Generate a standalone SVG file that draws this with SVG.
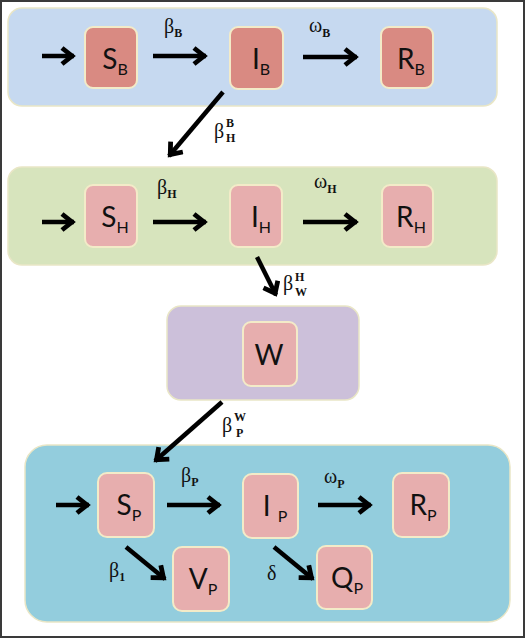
<svg xmlns="http://www.w3.org/2000/svg" width="525" height="638" viewBox="0 0 525 638">
<defs>
<style>
.panel{stroke:#e9e6c6;stroke-width:1.5}
.box{stroke:#f3ebc8;stroke-width:2}
.dark{fill:#d98a82}
.light{fill:#e7aeae}
.lab{font-family:"Lato","Open Sans","Liberation Sans",sans-serif;font-size:28px;fill:#111}
.lab tspan{font-size:16px}
.gr{font-family:"Liberation Serif","DejaVu Serif",serif;font-size:20px;fill:#111}
.sub{font-size:12px;font-weight:bold}
.arr{stroke:#000;stroke-width:4.5;fill:none;marker-end:url(#ah)}
</style>
<marker id="ah" markerUnits="userSpaceOnUse" markerWidth="20" markerHeight="20" viewBox="-14 -10 20 20" refX="2" refY="0" orient="auto">
<path d="M-10,-8 L0,0 L-10,8" fill="none" stroke="#000" stroke-width="4.8" stroke-linejoin="miter"/>
</marker>
</defs>
<rect x="1" y="1" width="523" height="636" fill="#fff" stroke="#3a3a3a" stroke-width="2"/>

<g id="panel-B">
<rect class="panel" x="8" y="8" width="489" height="98" rx="14" fill="#c6d9f0"/>
</g>
<g id="panel-H">
<rect class="panel" x="8" y="167" width="489" height="98" rx="14" fill="#d7e4bd"/>
</g>
<g id="panel-W">
<rect class="panel" x="167" y="306" width="192" height="94" rx="14" fill="#ccc0da"/>
</g>
<g id="panel-P">
<rect class="panel" x="25" y="445" width="485" height="177" rx="22" fill="#93cddd"/>
</g>

<g id="SB"><rect class="box dark" x="85" y="27" width="52" height="61" rx="8"/><text class="lab" x="115" y="69" text-anchor="middle">S<tspan dy="6">B</tspan></text></g>
<g id="IB"><rect class="box dark" x="230" y="27" width="53" height="62" rx="8"/><text class="lab" x="261" y="69" text-anchor="middle">I<tspan dy="6">B</tspan></text></g>
<g id="RB"><rect class="box dark" x="381" y="27" width="52" height="61" rx="8"/><text class="lab" x="411" y="69" text-anchor="middle">R<tspan dy="6">B</tspan></text></g>

<g id="SH"><rect class="box light" x="85" y="185" width="52" height="62" rx="8"/><text class="lab" x="115" y="227" text-anchor="middle">S<tspan dy="6">H</tspan></text></g>
<g id="IH"><rect class="box light" x="230" y="185" width="52" height="62" rx="8"/><text class="lab" x="261" y="227" text-anchor="middle">I<tspan dy="6">H</tspan></text></g>
<g id="RH"><rect class="box light" x="382" y="185" width="51" height="62" rx="8"/><text class="lab" x="411" y="227" text-anchor="middle">R<tspan dy="6">H</tspan></text></g>

<g id="W"><rect class="box light" x="243" y="322" width="54" height="64" rx="8"/><text class="lab" x="269" y="365" text-anchor="middle">W</text></g>

<g id="SP"><rect class="box light" x="98" y="473" width="56" height="64" rx="9"/><text class="lab" x="129" y="515" text-anchor="middle">S<tspan dy="6">P</tspan></text></g>
<g id="IP"><rect class="box light" x="243" y="474" width="55" height="64" rx="9"/><text class="lab" x="275" y="516" text-anchor="middle">I <tspan dy="6">P</tspan></text></g>
<g id="RP"><rect class="box light" x="393" y="473" width="56" height="64" rx="9"/><text class="lab" x="423" y="515" text-anchor="middle">R<tspan dy="6">P</tspan></text></g>
<g id="VP"><rect class="box light" x="173" y="547" width="56" height="64" rx="9"/><text class="lab" x="203" y="589" text-anchor="middle">V<tspan dy="6">P</tspan></text></g>
<g id="QP"><rect class="box light" x="317" y="546" width="55" height="63" rx="9"/><text class="lab" x="347" y="588" text-anchor="middle">Q<tspan dy="6">P</tspan></text></g>

<g id="connectors">
<line class="arr" x1="42" y1="56" x2="74" y2="56"/>
<line class="arr" x1="153" y1="56" x2="206" y2="56"/>
<line class="arr" x1="303" y1="57" x2="357" y2="57"/>
<line class="arr" x1="223" y1="92" x2="169" y2="156"/>
<line class="arr" x1="42" y1="222" x2="74" y2="222"/>
<line class="arr" x1="153" y1="222" x2="206" y2="222"/>
<line class="arr" x1="303" y1="222" x2="357" y2="222"/>
<line class="arr" x1="257" y1="257" x2="276" y2="295"/>
<line class="arr" x1="222" y1="402" x2="155" y2="461"/>
<line class="arr" x1="56" y1="505" x2="89" y2="505"/>
<line class="arr" x1="167" y1="505" x2="220" y2="505"/>
<line class="arr" x1="318" y1="505" x2="371" y2="505"/>
<line class="arr" x1="126" y1="547" x2="165" y2="579"/>
<line class="arr" x1="274" y1="547" x2="313" y2="579"/>

<text class="gr" x="164" y="33">β<tspan class="sub" dy="4">B</tspan></text>
<text class="gr" x="309" y="32">ω<tspan class="sub" dy="5">B</tspan></text>
<text class="gr" x="214" y="138">β</text><text class="gr sub" x="226" y="127">B</text><text class="gr sub" x="226" y="142">H</text>
<text class="gr" x="157" y="194">β<tspan class="sub" dy="4">H</tspan></text>
<text class="gr" x="314" y="188">ω<tspan class="sub" dy="5">H</tspan></text>
<text class="gr" x="283" y="290">β</text><text class="gr sub" x="295" y="281">H</text><text class="gr sub" x="295" y="296">W</text>
<text class="gr" x="222" y="432">β</text><text class="gr sub" x="234" y="421">W</text><text class="gr sub" x="236" y="437">P</text>
<text class="gr" x="181" y="482">β<tspan class="sub" dy="4">P</tspan></text>
<text class="gr" x="324" y="483">ω<tspan class="sub" dy="5">P</tspan></text>
<text class="gr" x="109" y="577">β<tspan class="sub" dy="4">1</tspan></text>
<text class="gr" x="267" y="580">δ</text>
</g>
</svg>
